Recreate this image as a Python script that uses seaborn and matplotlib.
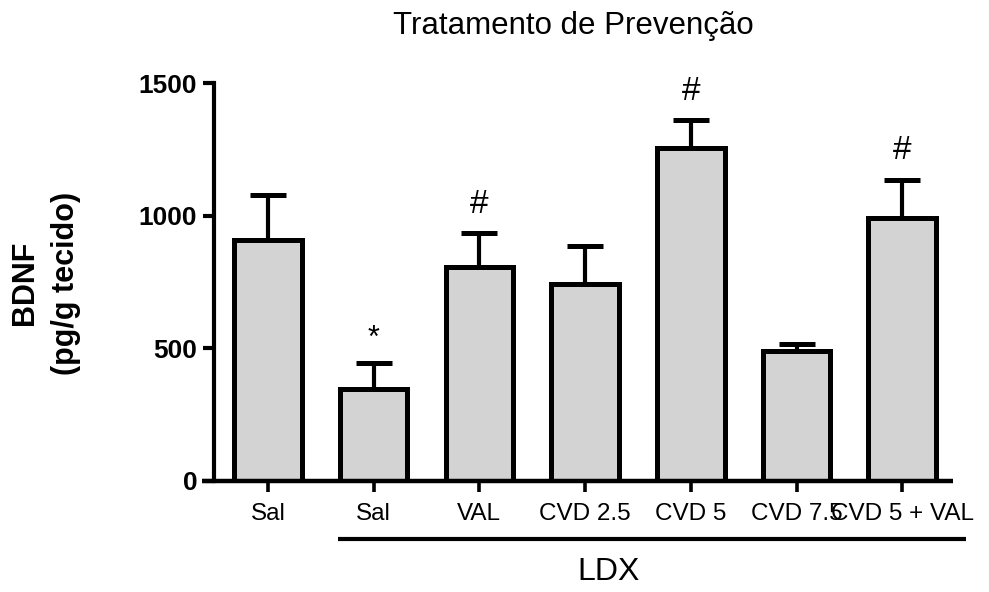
import matplotlib
matplotlib.use("Agg")
import matplotlib.pyplot as plt
from matplotlib.lines import Line2D
import numpy as np
import pandas as pd
import seaborn as sns

# Group labels, mean BDNF (pg/g tissue) and SEM per group
groups = ["Sal", "Sal ", "VAL", "CVD 2.5", "CVD 5", "CVD 7.5", "CVD 5 + VAL"]
tick_labels = ["Sal", "Sal", "VAL", "CVD 2.5", "CVD 5", "CVD 7.5", "CVD 5 + VAL"]
means = [909, 346, 807, 744, 1255, 491, 990]
sems = [168, 97, 126, 142, 104, 27, 146]
marks = ["", "*", "#", "", "#", "", "#"]
y_ticks = [0, 500, 1000, 1500]

sns.set_style("ticks")
plt.rcParams["font.family"] = ["Liberation Sans", "DejaVu Sans"]
plt.rcParams.update({
    "text.color": "black",
    "axes.edgecolor": "black",
    "axes.labelcolor": "black",
    "xtick.color": "black",
    "ytick.color": "black",
})

df = pd.DataFrame({"group": groups, "bdnf": means})

fig = plt.figure(figsize=(9.89, 5.92), dpi=100)
ax = fig.add_axes([214 / 989, 1 - 481 / 592, 739 / 989, 398 / 592])

sns.barplot(data=df, x="group", y="bdnf", order=groups, color="#d3d3d3",
            saturation=1, edgecolor="black", linewidth=3.6, width=0.64,
            errorbar=None, ax=ax, zorder=3)

xpos = np.arange(len(groups))
ax.errorbar(xpos, means, yerr=[np.zeros(len(sems)), sems], fmt="none",
            ecolor="black", elinewidth=3.0, capsize=13, capthick=3.6, zorder=2)

for x, m, s, t in zip(xpos, means, sems, marks):
    if t:
        ax.annotate(t, (x, m + s), xytext=(0, 21 if t == "#" else 18),
                    textcoords="offset points", ha="center", va="center",
                    fontsize=24 if t == "#" else 22, color="black")

ax.set_ylim(0, 1500)
ax.set_xlim(-0.51, 6.48)
ax.set_yticks(y_ticks)
ax.set_yticklabels([str(v) for v in y_ticks], fontsize=19, fontweight="bold")
ax.set_xticks(xpos)
ax.set_xticklabels(tick_labels, fontsize=17.5)
ax.set_xlabel("")
ax.set_ylabel("")

for side in ["top", "right", "bottom"]:
    ax.spines[side].set_visible(False)
ax.spines["left"].set_linewidth(3.0)
ax.tick_params(axis="y", length=8, width=3.0, pad=4)
ax.tick_params(axis="x", length=8, width=2.6, pad=8)

# baseline that runs a little past the y axis on the left
ax.plot([-0.62, 6.48], [0, 0], color="black", lw=3.2, clip_on=False,
        solid_capstyle="butt", zorder=4)

fig.text(573 / 989, 1 - 26 / 592, "Tratamento de Prevenção", ha="center",
         va="center", fontsize=22.5)
fig.text(25 / 989, 1 - 283 / 592, "BDNF", rotation=90, ha="center",
         va="center", fontsize=22, fontweight="bold")
fig.text(66 / 989, 1 - 283 / 592, "(pg/g tecido)", rotation=90, ha="center",
         va="center", fontsize=22, fontweight="bold")

# bracket under the LDX-treated groups
fig.add_artist(Line2D([338 / 989, 966 / 989], [1 - 539 / 592, 1 - 539 / 592],
                      color="black", lw=3.0, solid_capstyle="butt"))
fig.text(609 / 989, 1 - 572 / 592, "LDX", ha="center", va="center", fontsize=23)

fig.savefig("out.png", dpi=100, facecolor="white")
